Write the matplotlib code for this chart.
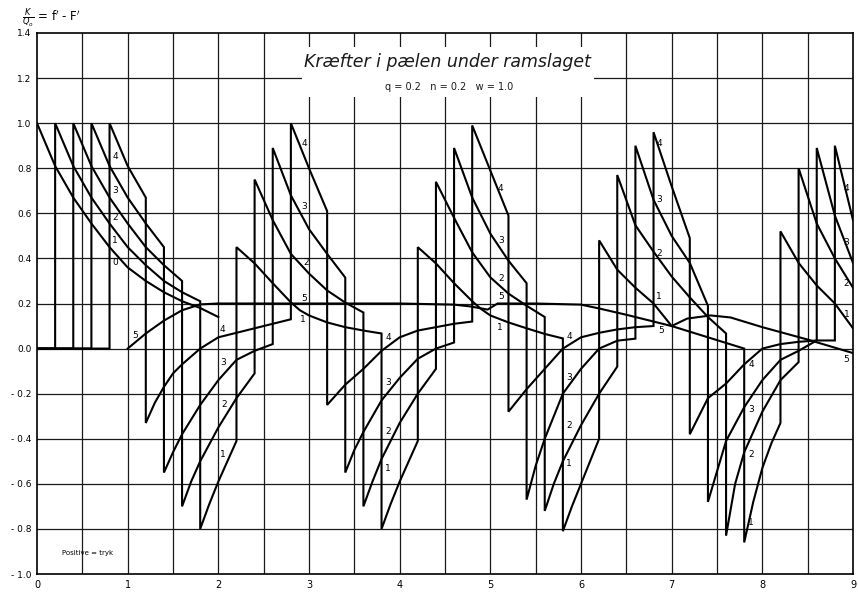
import matplotlib
matplotlib.use("Agg")
import matplotlib.pyplot as plt
from matplotlib.patches import Rectangle
import numpy as np

# ---------------- data ----------------
c0_x = [0.0, 0.2, 0.4, 0.6, 0.8, 1.0, 1.2, 1.4, 1.6, 1.8, 2.0]
c0_y = [1.0, 0.81, 0.67, 0.555, 0.45, 0.36, 0.30, 0.25, 0.21, 0.18, 0.14]

c1_x = [0.0, 0.2, 0.2, 0.4, 0.6, 0.8, 1.0, 1.2, 1.4, 1.6, 1.8,
        1.8, 1.9, 2.0, 2.1, 2.2,
        2.2, 2.4, 2.6, 2.8, 2.9, 3.0, 3.2, 3.4, 3.6, 3.8,
        3.8, 3.9, 4.0, 4.1, 4.2,
        4.2, 4.4, 4.6, 4.8, 4.9, 5.0, 5.2, 5.4, 5.6, 5.8,
        5.8, 5.9, 6.0, 6.1, 6.2,
        6.2, 6.4, 6.6, 6.8, 7.0, 7.2, 7.4, 7.6, 7.8,
        7.8, 7.9, 8.0, 8.1, 8.2,
        8.2, 8.4, 8.6, 8.8, 9.0]
c1_y = [0.0, 0.0, 1.0, 0.81, 0.67, 0.555, 0.45, 0.37, 0.30, 0.25, 0.21,
        -0.80, -0.69, -0.59, -0.50, -0.41,
        0.45, 0.378, 0.29, 0.205, 0.17, 0.147, 0.116, 0.095, 0.08, 0.067,
        -0.80, -0.69, -0.59, -0.50, -0.41,
        0.45, 0.378, 0.29, 0.21, 0.175, 0.147, 0.116, 0.09, 0.065, 0.045,
        -0.81, -0.70, -0.60, -0.50, -0.40,
        0.48, 0.35, 0.27, 0.20, 0.10, 0.075, 0.05, 0.025, 0.0,
        -0.86, -0.68, -0.53, -0.42, -0.33,
        0.52, 0.38, 0.28, 0.20, 0.09]

c2_x = [0.0, 0.4, 0.4, 0.6, 0.8, 1.0, 1.2, 1.4, 1.6,
        1.6, 1.7, 1.8, 2.0, 2.2, 2.4,
        2.4, 2.6, 2.8, 3.0, 3.2, 3.4, 3.6,
        3.6, 3.7, 3.8, 4.0, 4.2, 4.4,
        4.4, 4.6, 4.8, 5.0, 5.2, 5.4, 5.6,
        5.6, 5.7, 5.8, 6.0, 6.2, 6.4,
        6.4, 6.6, 6.8, 7.0, 7.2, 7.4, 7.6,
        7.6, 7.7, 7.8, 8.0, 8.2, 8.4,
        8.4, 8.6, 8.8, 9.0]
c2_y = [0.0, 0.0, 1.0, 0.81, 0.67, 0.555, 0.45, 0.37, 0.30,
        -0.70, -0.59, -0.50, -0.35, -0.22, -0.11,
        0.75, 0.57, 0.42, 0.333, 0.258, 0.204, 0.16,
        -0.70, -0.59, -0.49, -0.33, -0.20, -0.09,
        0.74, 0.58, 0.427, 0.316, 0.244, 0.19, 0.14,
        -0.72, -0.60, -0.50, -0.34, -0.20, -0.08,
        0.77, 0.547, 0.43, 0.32, 0.227, 0.14, 0.067,
        -0.83, -0.60, -0.46, -0.28, -0.14, -0.06,
        0.80, 0.555, 0.40, 0.27]

c3_x = [0.0, 0.6, 0.6, 0.8, 1.0, 1.2, 1.4,
        1.4, 1.5, 1.6, 1.8, 2.0, 2.2, 2.4, 2.6,
        2.6, 2.8, 3.0, 3.2, 3.4,
        3.4, 3.5, 3.6, 3.8, 4.0, 4.2, 4.4, 4.6,
        4.6, 4.8, 5.0, 5.2, 5.4,
        5.4, 5.5, 5.6, 5.8, 6.0, 6.2, 6.4, 6.6,
        6.6, 6.8, 7.0, 7.2, 7.4,
        7.4, 7.6, 7.8, 8.0, 8.2, 8.4, 8.6,
        8.6, 8.8, 9.0]
c3_y = [0.0, 0.0, 1.0, 0.81, 0.67, 0.555, 0.45,
        -0.55, -0.46, -0.38, -0.25, -0.14, -0.05, -0.01, 0.02,
        0.89, 0.68, 0.53, 0.42, 0.315,
        -0.55, -0.45, -0.37, -0.23, -0.13, -0.045, 0.0, 0.027,
        0.89, 0.67, 0.51, 0.39, 0.29,
        -0.67, -0.52, -0.40, -0.20, -0.09, 0.0, 0.035, 0.044,
        0.90, 0.66, 0.50, 0.38, 0.19,
        -0.68, -0.41, -0.26, -0.14, -0.05, -0.01, 0.036,
        0.89, 0.59, 0.38]

c4_x = [0.0, 0.8, 0.8, 1.0, 1.2,
        1.2, 1.3, 1.4, 1.5, 1.6, 1.8, 2.0, 2.2, 2.4, 2.6, 2.8,
        2.8, 3.0, 3.2,
        3.2, 3.4, 3.6, 3.8, 4.0, 4.2, 4.4, 4.6, 4.8,
        4.8, 5.0, 5.2,
        5.2, 5.4, 5.6, 5.8, 6.0, 6.2, 6.4, 6.6, 6.8,
        6.8, 7.0, 7.2,
        7.2, 7.4, 7.6, 7.8, 8.0, 8.2, 8.4, 8.6, 8.8,
        8.8, 9.0]
c4_y = [0.0, 0.0, 1.0, 0.81, 0.67,
        -0.33, -0.24, -0.17, -0.11, -0.07, 0.0, 0.05, 0.07, 0.09, 0.11, 0.13,
        1.0, 0.80, 0.61,
        -0.25, -0.16, -0.09, -0.01, 0.05, 0.08, 0.095, 0.11, 0.12,
        0.99, 0.79, 0.59,
        -0.28, -0.18, -0.09, 0.0, 0.05, 0.07, 0.085, 0.095, 0.10,
        0.96, 0.72, 0.49,
        -0.38, -0.22, -0.155, -0.07, 0.0, 0.02, 0.03, 0.036, 0.036,
        0.90, 0.57]

c5_x = [1.0, 1.2, 1.4, 1.6, 1.8, 2.0, 3.0, 4.0, 4.6, 4.78, 4.97, 5.08,
        5.5, 6.0, 6.2, 6.5, 7.0, 7.17, 7.43, 7.65, 8.0, 8.5, 9.0]
c5_y = [0.0, 0.067, 0.124, 0.17, 0.196, 0.2, 0.2, 0.2, 0.195, 0.187, 0.173, 0.2,
        0.2, 0.195, 0.178, 0.15, 0.10, 0.133, 0.147, 0.138, 0.095, 0.04, -0.02]

label_text = ["4", "3", "2", "1", "0", "5", "4", "3", "2", "1",
              "4", "3", "2", "5", "1", "4", "3", "2", "1",
              "4", "3", "2", "5", "1", "4", "3", "2", "1",
              "4", "3", "2", "1", "5", "4", "3", "2", "1",
              "4", "3", "2", "1", "5"]
label_x = [0.86, 0.86, 0.86, 0.86, 0.86, 1.08, 2.05, 2.05, 2.06, 2.05,
           2.95, 2.95, 2.97, 2.95, 2.93, 3.87, 3.87, 3.87, 3.87,
           5.11, 5.12, 5.12, 5.12, 5.11, 5.87, 5.87, 5.87, 5.87,
           6.86, 6.86, 6.86, 6.86, 6.88, 7.88, 7.88, 7.88, 7.87,
           8.93, 8.93, 8.93, 8.93, 8.93]
label_y = [0.85, 0.70, 0.58, 0.48, 0.38, 0.06, 0.085, -0.06, -0.25, -0.47,
           0.91, 0.63, 0.38, 0.22, 0.13, 0.05, -0.15, -0.37, -0.53,
           0.71, 0.48, 0.31, 0.23, 0.095, 0.055, -0.13, -0.34, -0.51,
           0.91, 0.66, 0.42, 0.23, 0.08, -0.07, -0.27, -0.47, -0.77,
           0.71, 0.47, 0.29, 0.15, -0.05]

x_ticks = [0, 1, 2, 3, 4, 5, 6, 7, 8, 9]
y_ticks = [1.4, 1.2, 1.0, 0.8, 0.6, 0.4, 0.2, 0.0, -0.2, -0.4, -0.6, -0.8, -1.0]
y_tick_labels = ["1.4", "1.2", "1.0", "0.8", "0.6", "0.4", "0.2", "0.0",
                 "- 0.2", "- 0.4", "- 0.6", "- 0.8", "- 1.0"]

title_text = "Kræfter i pælen under ramslaget"
subtitle_text = "q = 0.2   n = 0.2   w = 1.0"
note_text = "Positive = tryk"

# ---------------- figure ----------------
W, H = 858, 593
fig = plt.figure(figsize=(W / 100, H / 100), dpi=100)
ax = fig.add_axes([37 / W, 1 - 574 / H, (853 - 37) / W, (574 - 33) / H])
ax.set_xlim(0, 9)
ax.set_ylim(-1.0, 1.4)

grid_kw = dict(color="#1a1a1a", lw=0.9, zorder=1)
for gx in np.arange(0.5, 9.0, 0.5):
    ax.axvline(gx, **grid_kw)
for gy in np.arange(-0.8, 1.4, 0.2):
    ax.axhline(gy, **grid_kw)

for sp in ax.spines.values():
    sp.set_linewidth(1.2)
    sp.set_color("black")

line_kw = dict(color="black", lw=1.5, solid_joinstyle="miter", zorder=3)
for xs, ys in [(c0_x, c0_y), (c1_x, c1_y), (c2_x, c2_y), (c3_x, c3_y),
               (c4_x, c4_y), (c5_x, c5_y)]:
    ax.plot(xs, ys, **line_kw)

for t, lx, ly in zip(label_text, label_x, label_y):
    ax.text(lx, ly, t, fontsize=6.5, ha="center", va="center", zorder=5)

# title box
ax.add_patch(Rectangle((2.92, 1.115), 6.14 - 2.92, 1.338 - 1.115,
                       facecolor="white", edgecolor="none", zorder=4))
ax.text(4.53, 1.27, title_text, fontsize=12.5, style="italic", ha="center",
        va="center", zorder=6, color="#1a1a1a", fontweight="light")
ax.text(4.54, 1.16, subtitle_text, fontsize=7, ha="center", va="center",
        zorder=6, color="#1a1a1a")
ax.text(0.28, -0.905, note_text, fontsize=5, ha="left", va="center", zorder=6)

ax.set_xticks(x_ticks)
ax.set_xticklabels([str(v) for v in x_ticks], fontsize=7)
ax.set_yticks(y_ticks)
ax.set_yticklabels(y_tick_labels, fontsize=6.5)
ax.tick_params(length=0, pad=4)

fig.text(22 / W, 1 - 18 / H, r"$\frac{K}{Q_o}$ = f$'$ - F$'$", fontsize=8.5,
         ha="left", va="center")

fig.savefig("out.png", dpi=100, facecolor="white")
